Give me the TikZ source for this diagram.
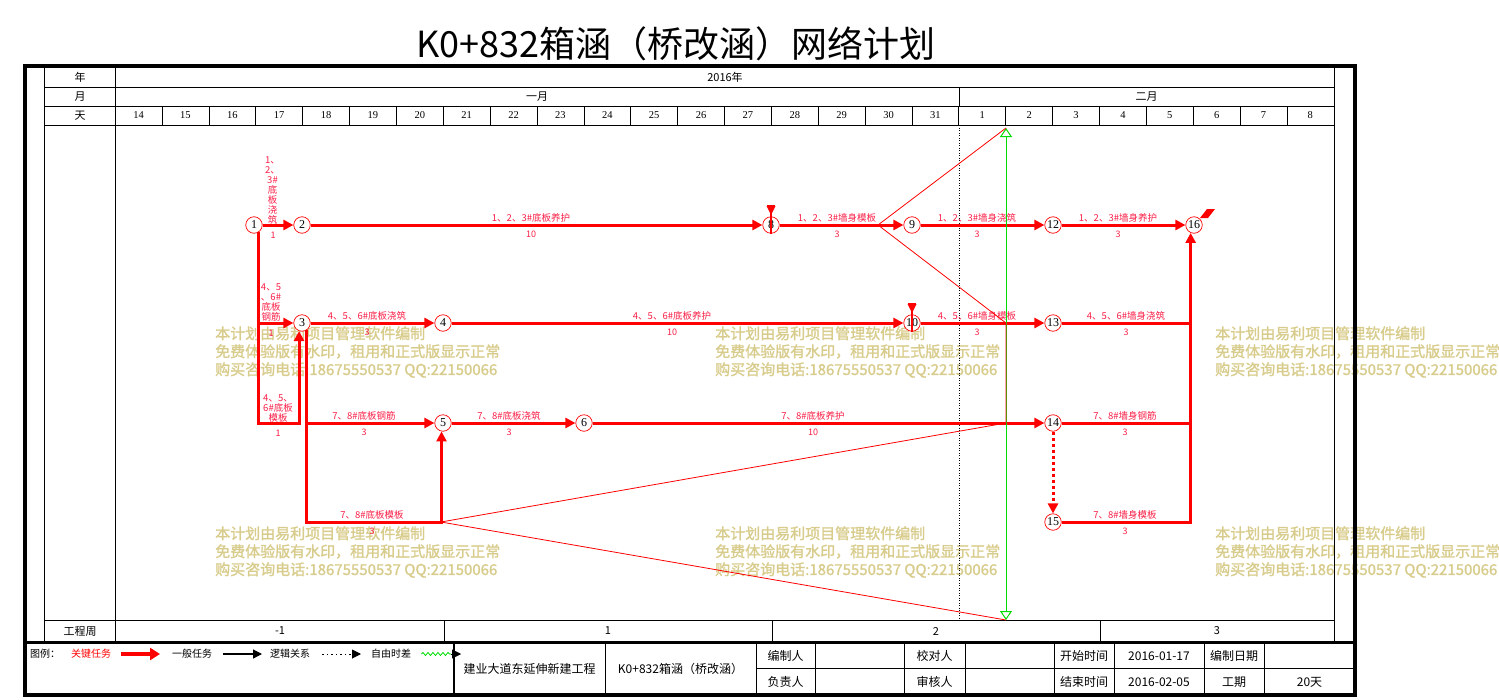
\documentclass[tikz,border=0pt]{standalone}
\usepackage{fontspec}
\setmainfont{Noto Sans CJK SC}
\newfontfamily\numfont{Liberation Serif}
\newfontfamily\wmfont{Noto Sans CJK SC}[FakeBold=1.5]
\usepackage{xcolor}
\usetikzlibrary{positioning,calc,arrows.meta,decorations.pathmorphing}
\definecolor{tskred}{RGB}{250,30,70}
\definecolor{wmgold}{RGB}{216,204,140}
\definecolor{nowgreen}{RGB}{0,220,0}

\begin{document}
\begin{tikzpicture}[x=1pt,y=-1pt, line join=miter]
		\useasboundingbox (0,0) rectangle (1499,699);
		
		% ===== style =====
		\tikzset{
			evt/.style={circle, draw=red, fill=white, line width=0.7pt, minimum size=16.5pt, inner sep=0pt, font=\numfont\fontsize{12}{12}\selectfont},
			crit/.style={draw=red, line width=3pt, -{Triangle[length=10pt,width=10pt]}},
			critline/.style={draw=red, line width=3pt},
			tsk/.style={text=tskred, inner sep=0pt, font=\fontsize{9.5}{10}\selectfont},
			dur/.style={text=tskred, inner sep=0pt, font=\fontsize{9}{9}\selectfont},
			hd/.style={inner sep=0pt, font=\fontsize{11}{11}\selectfont},
			dnum/.style={inner sep=0pt, font=\numfont\fontsize{10.5}{10.5}\selectfont},
			cell/.style={inner sep=0pt, font=\fontsize{12}{12}\selectfont},
			lgd/.style={inner sep=0pt, anchor=west, font=\fontsize{10}{10}\selectfont},
			wm/.style={inner sep=0pt, anchor=west, align=left, text=wmgold, font=\wmfont\fontsize{15}{18}\selectfont},
			grid/.style={line width=0.8pt},
		}
		
		% ===== tiêu đề =====
		\node[inner sep=0pt, font=\fontsize{36}{36}\selectfont] (title) at (676,44) {K0+832箱涵（桥改涵）网络计划};
		
		% ===== watermark =====
		\foreach \wx/\wy [count=\k] in {215/352,715/352,1215/352,215/552,715/552,1215/552}{
			\node[wm] (wm\k) at (\wx,\wy) {本计划由易利项目管理软件编制\\免费体验版有水印，租用和正式版显示正常\\购买咨询电话:18675550537 QQ:22150066};
		}
		
		% ===== khung =====
		\draw[line width=4pt] (25,66) rectangle (1355,695);
		\draw[line width=3pt] (25,642) -- (1355,642);
		\foreach \x in {44.5,115.2,1334}{
			\draw[grid] (\x,66) -- (\x,642);
		}
		\foreach \y in {87,106,125,620}{
			\draw[grid] (44.5,\y) -- (1334,\y);
		}
		\draw[grid] (959,87) -- (959,106);
		\foreach \i in {1,...,25}{
			\draw[grid] (115.2+46.87*\i,106) -- (115.2+46.87*\i,125);
		}
		\foreach \x in {444,772,1100}{
			\draw[grid] (\x,620) -- (\x,642);
		}
		
		% ===== 年 / 月 / 天 =====
		\node[hd] (yr) at (80,77) {年};
		\node[hd] (mo) at (80,96.5) {月};
		\node[hd] (dy) at (80,115.5) {天};
		\node[hd] (wk) at (80,631) {工程周};
		\node[hd] (yrv) at (725,77) {2016年};
		\node[hd] (jan) at (537,96.5) {一月};
		\node[hd] (feb) at (1146.5,96.5) {二月};
		\foreach \d [count=\i from 0] in {14,...,31}{
			\node[dnum] (day\d) at (138.6+46.87*\i,115.5) {\d};
		}
		\foreach \d [count=\i from 18] in {1,...,8}{
			\node[dnum] (fday\d) at (138.6+46.87*\i,115.5) {\d};
		}
		\foreach \x/\w [count=\k] in {280/-1,608/1,936/2,1217/3}{
			\node[hd] (wk\k) at (\x,631) {\w};
		}
		
		% vạch chấm cuối tháng
		\draw[dash pattern=on 1pt off 1.5pt, line width=0.8pt] (959,125) -- (959,620);
		
		% ===== các nút =====
		\foreach \n/\x/\y in {1/254/225,2/302/225,3/302/323,4/443/323,5/443/423,6/584/423,8/771/225,9/912/225,10/912/323,12/1053/225,13/1053/323,14/1053/423,15/1053/522,16/1194/225}{
			\node[evt] (n\n) at (\x,\y) {\n};
		}
		
		% ===== các công việc =====
		\draw[crit] (n1) -- (n2);
		\draw[crit] (n2) -- (n8);
		\draw[crit] (n8) -- (n9);
		\draw[crit] (n9) -- (n12);
		\draw[crit] (n12) -- (n16);
		\draw[crit] (n1.-55) |- (n3);
		\draw[crit] (n1.-55) |- ([yshift=-92pt]n3.-110) -- (n3.-110);
		\draw[crit] (n3) -- (n4);
		\draw[crit] (n3.-55) |- (n5);
		\draw[crit] (n3.-55) |- ([yshift=-91pt]n5.-100) -- (n5.-100);
		\draw[crit] (n4) -- (n10);
		\draw[crit] (n5) -- (n6);
		\draw[crit] (n6) -- (n14);
		\draw[crit] (n10) -- (n13);
		\draw[critline] (n13) -- (n13 -| n16.-113);
		\draw[critline] (n14) -- (n14 -| n16.-113);
		\draw[crit] (n15) -| (n16.-113);
		\draw[crit, dash pattern=on 3pt off 3pt] (n14) -- (n15);
		
		% ===== nhãn =====
		\node[tsk, anchor=south, align=center] (t12) at (272.5,224) {1、\\2、\\3\#\\底\\板\\浇\\筑};
		\node[dur] (d12) at (273,235) {1};
		\node[tsk] (t28) at (531,217.5) {1、2、3\#底板养护};
		\node[dur] (d28) at (531,234.5) {10};
		\node[tsk] (t89) at (837,217.5) {1、2、3\#墙身模板};
		\node[dur] (d89) at (837,234.5) {3};
		\node[tsk] (t912) at (977,217.5) {1、2、3\#墙身浇筑};
		\node[dur] (d912) at (977,234.5) {3};
		\node[tsk] (t1216) at (1118,217.5) {1、2、3\#墙身养护};
		\node[dur] (d1216) at (1118,234.5) {3};
		
		\node[tsk, anchor=south, align=center] (t13a) at (271,322) {4、5\\、6\#\\底板\\钢筋};
		\node[dur] (d13a) at (271,333) {1};
		\node[tsk] (t34) at (367,315.5) {4、5、6\#底板浇筑};
		\node[dur] (d34) at (367,332.5) {3};
		\node[tsk] (t410) at (672,315.5) {4、5、6\#底板养护};
		\node[dur] (d410) at (672,332.5) {10};
		\node[tsk] (t1013) at (977,315.5) {4、5、6\#墙身模板};
		\node[dur] (d1013) at (977,332.5) {3};
		\node[tsk] (t1316) at (1126,315.5) {4、5、6\#墙身浇筑};
		\node[dur] (d1316) at (1126,332.5) {3};
		
		\node[tsk, anchor=south, align=center] (t13b) at (278,422) {4、5、\\6\#底板\\模板};
		\node[dur] (d13b) at (278,433) {1};
		\node[tsk] (t35a) at (364,415.5) {7、8\#底板钢筋};
		\node[dur] (d35a) at (364,432.5) {3};
		\node[tsk] (t56) at (509,415.5) {7、8\#底板浇筑};
		\node[dur] (d56) at (509,432.5) {3};
		\node[tsk] (t614) at (813,415.5) {7、8\#底板养护};
		\node[dur] (d614) at (813,432.5) {10};
		\node[tsk] (t1416) at (1125,415.5) {7、8\#墙身钢筋};
		\node[dur] (d1416) at (1125,432.5) {3};
		
		\node[tsk] (t35b) at (372,514.5) {7、8\#底板模板};
		\node[dur] (d35b) at (372,531.5) {3};
		\node[tsk] (t1516) at (1125,514.5) {7、8\#墙身模板};
		\node[dur] (d1516) at (1125,531.5) {3};
		
		% ===== dấu trên nút 8, 10 và cờ nút 16 =====
		\foreach \m in {n8,n10}{
			\draw[red, line width=1.4pt] ([yshift=20pt]\m.center) -- ([yshift=-9pt]\m.center);
			\draw[red, line width=1pt] ([xshift=-4pt,yshift=20pt]\m.center) -- ([xshift=4pt,yshift=20pt]\m.center);
			\fill[red] ([xshift=-4.5pt,yshift=19pt]\m.center) -- ([xshift=4.5pt,yshift=19pt]\m.center) -- ([yshift=10pt]\m.center) -- cycle;
		}
		\fill[red] ([xshift=6pt,yshift=7pt]n16.center) -- ([xshift=13pt,yshift=16pt]n16.center) -- ([xshift=21pt,yshift=16pt]n16.center) -- ([xshift=14pt,yshift=7pt]n16.center) -- cycle;
		
		% ===== đường kiểm tra =====
		\coordinate (nowtop) at (1006,128);
		\coordinate (nowbot) at (1006,620);
		\draw[nowgreen, line width=1pt, {Triangle[open,length=9pt,width=12pt]}-{Triangle[open,length=9pt,width=12pt]}] (nowtop) -- (nowbot);
		\draw[red, line width=0.8pt] (nowtop) -- (878,225) -- (1006,323) -- (1006,423) -- (441,522) -- (nowbot);
		
		% ===== chú thích =====
		\node[lgd] (lg0) at (30,654) {图例：};
		\node[lgd, text=red] (lg1) at (71,654) {关键任务};
		\node[lgd] (lg2) at (172,654) {一般任务};
		\node[lgd] (lg3) at (270,654) {逻辑关系};
		\node[lgd] (lg4) at (371,654) {自由时差};
		\coordinate (lgend) at (461,654);
		\draw[red, line width=4pt, -{Triangle[length=10pt,width=12pt]}] ([xshift=10pt]lg1.east) -- ([xshift=-12pt]lg2.west);
		\draw[line width=1.2pt, -{Triangle[length=9pt,width=9pt]}] ([xshift=11pt]lg2.east) -- ([xshift=-8pt]lg3.west);
		\draw[line width=1pt, dash pattern=on 1.5pt off 3pt, -{Triangle[length=9pt,width=9pt]}] ([xshift=12pt]lg3.east) -- ([xshift=-10pt]lg4.west);
		\draw[nowgreen, line width=0.8pt, decorate, decoration={snake, amplitude=1.5pt, segment length=5pt}] ([xshift=10pt]lg4.east) -- ([xshift=-10pt]lgend);
		\draw[-{Triangle[length=9pt,width=9pt]}] ([xshift=-10pt]lgend) -- (lgend);
		
		% ===== bảng dưới =====
		\draw[line width=2.5pt] (454,642) -- (454,695);
		\foreach \x in {605,756,815,904,965,1054,1114,1204,1264}{
			\draw[grid] (\x,642) -- (\x,695);
		}
		\draw[grid] (756,668.5) -- (1355,668.5);
		\node[cell] (proj) at (529.5,669) {建业大道东延伸新建工程};
		\node[cell] (sub) at (680.5,669) {K0+832箱涵（桥改涵）};
		\foreach \x/\a/\b [count=\k] in {785.5/编制人/负责人,934.5/校对人/审核人,1084/开始时间/结束时间,1159/2016-01-17/2016-02-05,1234/编制日期/工期}{
			\node[cell] (ca\k) at (\x,656) {\a};
			\node[cell] (cb\k) at (\x,682) {\b};
		}
		\node[cell] (cb6) at (1309.5,682) {20天};
		
	\end{tikzpicture}
\end{document}
